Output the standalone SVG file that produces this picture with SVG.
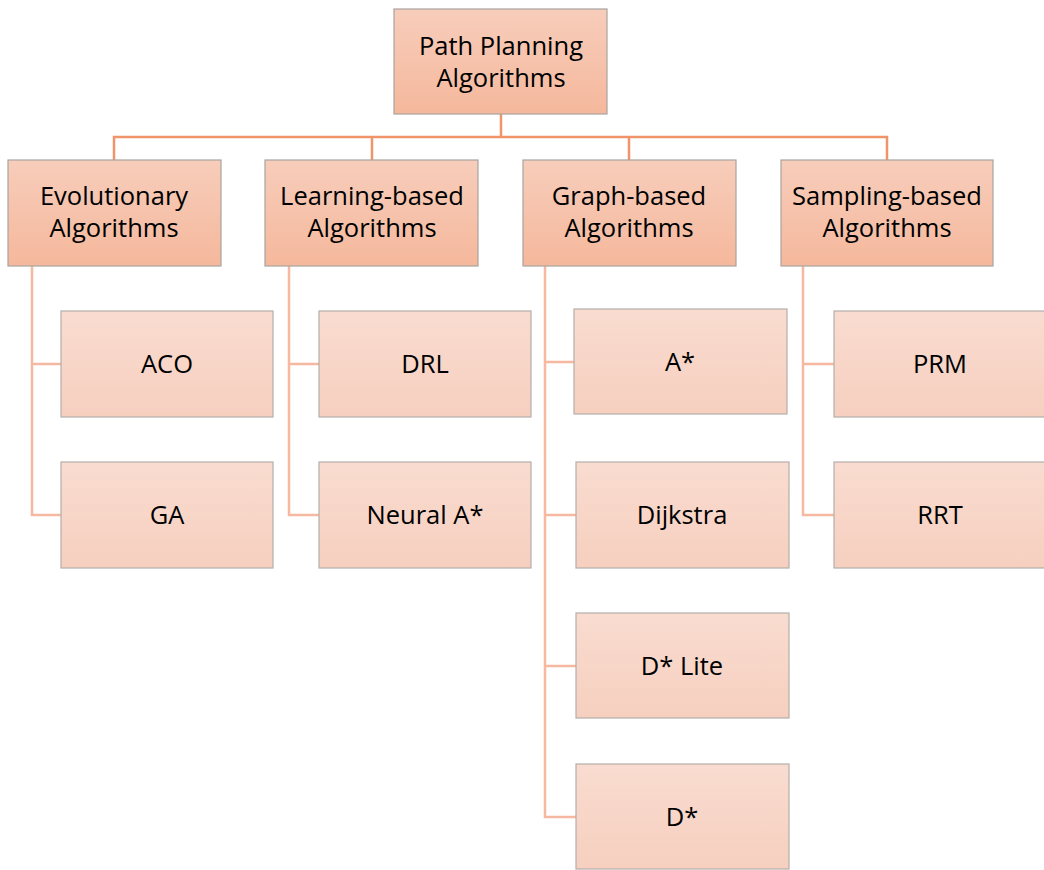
<svg xmlns="http://www.w3.org/2000/svg" width="1044" height="870" viewBox="0 0 1044 870">
<defs>
<linearGradient id="gMain" x1="0" y1="0" x2="0" y2="1">
<stop offset="0" stop-color="#f7cdbb"/>
<stop offset="1" stop-color="#f5b89c"/>
</linearGradient>
<linearGradient id="gSub" x1="0" y1="0" x2="0" y2="1">
<stop offset="0" stop-color="#f9dcd0"/>
<stop offset="1" stop-color="#f6cfbf"/>
</linearGradient>
</defs>
<style>
.main{fill:url(#gMain);stroke:#a9a39f;stroke-width:1.2}
.sub{fill:url(#gSub);stroke:#b5aeaa;stroke-width:1.2}
text{font-family:"Open Sans","Liberation Sans",sans-serif;font-size:25.5px;fill:#000;text-anchor:middle}
.top{fill:none;stroke:#f0956a;stroke-width:2.5}
.br{fill:none;stroke:#f6b8a0;stroke-width:2.5}
</style>
<rect width="1044" height="870" fill="#fff"/>
<g id="connectors">
<path class="top" d="M501 114V137M114 160V137H887V160M372 137V160M629 137V160"/>
<path class="br" d="M32 266V515H61M32 364H61"/>
<path class="br" d="M289 266V515H319M289 364H319"/>
<path class="br" d="M545 266V817H576M545 362H574M545 515H576M545 666H576"/>
<path class="br" d="M803 266V515H834M803 364H834"/>
</g>
<g id="root"><rect class="main" x="394" y="9" width="213" height="105"/><text x="501" y="55">Path Planning</text><text x="501" y="87">Algorithms</text></g>
<g id="evolutionary"><rect class="main" x="8" y="160" width="213" height="106"/><text x="114" y="205">Evolutionary</text><text x="114" y="237">Algorithms</text></g>
<g id="learning"><rect class="main" x="265" y="160" width="213" height="106"/><text x="372" y="205">Learning-based</text><text x="372" y="237">Algorithms</text></g>
<g id="graph"><rect class="main" x="523" y="160" width="213" height="106"/><text x="629" y="205">Graph-based</text><text x="629" y="237">Algorithms</text></g>
<g id="sampling"><rect class="main" x="781" y="160" width="212" height="106"/><text x="887" y="205">Sampling-based</text><text x="887" y="237">Algorithms</text></g>
<g id="aco"><rect class="sub" x="61" y="311" width="212" height="106"/><text x="167" y="373">ACO</text></g>
<g id="ga"><rect class="sub" x="61" y="462" width="212" height="106"/><text x="167" y="524">GA</text></g>
<g id="drl"><rect class="sub" x="319" y="311" width="212" height="106"/><text x="425" y="373">DRL</text></g>
<g id="neural"><rect class="sub" x="319" y="462" width="212" height="106"/><text x="425" y="524">Neural A*</text></g>
<g id="astar"><rect class="sub" x="574" y="309" width="213" height="105"/><text x="680" y="371">A*</text></g>
<g id="dijkstra"><rect class="sub" x="576" y="462" width="213" height="106"/><text x="682" y="524">Dijkstra</text></g>
<g id="dstarlite"><rect class="sub" x="576" y="613" width="213" height="105"/><text x="682" y="675">D* Lite</text></g>
<g id="dstar"><rect class="sub" x="576" y="764" width="213" height="105"/><text x="682" y="826">D*</text></g>
<g id="prm"><rect class="sub" x="834" y="311" width="212" height="106"/><text x="940" y="373">PRM</text></g>
<g id="rrt"><rect class="sub" x="834" y="462" width="212" height="106"/><text x="940" y="524">RRT</text></g>
</svg>
